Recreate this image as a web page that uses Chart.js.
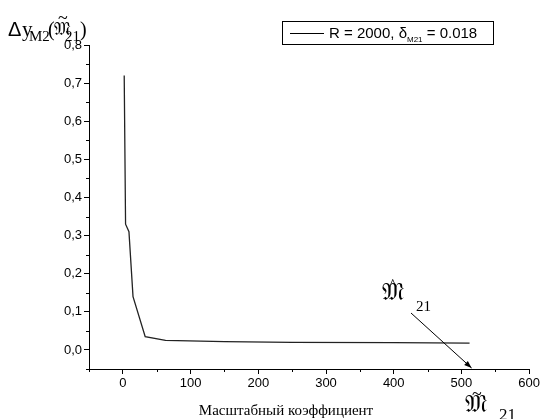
<!DOCTYPE html>
<html><head><meta charset="utf-8">
<script src="https://cdn.jsdelivr.net/npm/chart.js@4/dist/chart.umd.min.js"></script>
<style>html,body{margin:0;padding:0;background:#fff}#wrap{width:542px;height:419px;position:relative}</style>
</head><body><div id="wrap"><canvas id="c" width="542" height="419"></canvas></div>
<script>
const scaleFactors = [2, 4, 9, 15, 33, 63, 150, 250, 400, 512];
const deltaY = [0.72, 0.33, 0.31, 0.14, 0.035, 0.025, 0.022, 0.020, 0.019, 0.018];
const seriesLabel = 'R = 2000, δM21 = 0.018';
const xTitle = 'Масштабный коэффициент';
const xMajorTicks = [0, 100, 200, 300, 400, 500, 600];
const yMajorTicks = [0.0, 0.1, 0.2, 0.3, 0.4, 0.5, 0.6, 0.7, 0.8];

const FR = '𝔐';
const serif = '"Liberation Serif","DejaVu Serif",serif';
const sans = '"Liberation Sans",Arial,sans-serif';

function isMajor(v, list){ return list.some(t => Math.abs(t - v) < 1e-6); }

const annot = {
  id: 'annot',
  afterDraw(chart){
    const ctx = chart.ctx;
    const xs = chart.scales.x, ys = chart.scales.y;
    ctx.save();
    ctx.fillStyle = '#000';
    ctx.strokeStyle = '#000';
    // minor ticks
    ctx.lineWidth = 1;
    ctx.beginPath();
    for (let v = -50; v <= 600; v += 50){
      if (isMajor(v, xMajorTicks)) continue;
      const px = Math.round(xs.getPixelForValue(v)) + 0.5;
      ctx.moveTo(px, ys.bottom); ctx.lineTo(px, ys.bottom + 3);
    }
    for (let i = -1; i <= 16; i++){
      const v = i * 0.05;
      if (isMajor(Math.round(v*1000)/1000, yMajorTicks)) continue;
      const py = Math.round(ys.getPixelForValue(v)) + 0.5;
      ctx.moveTo(xs.left - 3, py); ctx.lineTo(xs.left, py);
    }
    ctx.stroke();

    // legend box
    ctx.lineWidth = 1;
    ctx.strokeRect(282.5, 21.5, 211, 23);
    ctx.beginPath(); ctx.moveTo(290, 33.5); ctx.lineTo(324, 33.5); ctx.lineWidth = 1; ctx.stroke();
    ctx.font = '15px ' + sans;
    ctx.textBaseline = 'alphabetic';
    ctx.textAlign = 'left';
    const p1 = 'R = 2000, δ';
    ctx.fillText(p1, 329, 38);
    let w = ctx.measureText(p1).width;
    ctx.font = '8px ' + sans;
    ctx.fillText('M21', 329 + w, 42);
    const w2 = ctx.measureText('M21').width;
    ctx.font = '15px ' + sans;
    ctx.fillText(' = 0.018', 329 + w + w2, 38);

    // y axis title
    ctx.font = '20px ' + sans;
    ctx.fillText('Δ', 8, 36);
    ctx.font = '21px ' + serif;
    ctx.fillText('y', 22, 36);
    ctx.font = '15px ' + serif;
    ctx.fillText('M2', 29, 41);
    ctx.font = '20px ' + serif;
    ctx.fillText('(', 48, 36);
    ctx.font = '18px ' + serif;
    ctx.fillText(FR, 54, 35);
    ctx.fillText('~', 58, 24);
    ctx.font = '15px ' + serif;
    ctx.fillText('21', 65, 41);
    ctx.font = '20px ' + serif;
    ctx.fillText(')', 80, 36);

    // x title
    ctx.font = '15px ' + serif;
    ctx.textAlign = 'center';
    ctx.fillText(xTitle, 286, 415);

    // annotation hat M 21
    ctx.textAlign = 'left';
    ctx.font = '24px ' + serif;
    ctx.fillText(FR, 382, 300);
    ctx.font = '16px ' + serif;
    ctx.fillText('^', 389, 290);
    ctx.font = '15px ' + serif;
    ctx.fillText('21', 416, 311);
    // bottom tilde M 21
    ctx.font = '24px ' + serif;
    ctx.fillText(FR, 465, 412);
    ctx.font = '18px ' + serif;
    ctx.fillText('~', 472, 400);
    ctx.font = '17px ' + serif;
    ctx.fillText('21', 499, 420);

    // arrow
    const ax0 = 411, ay0 = 313;
    const ax1 = xs.getPixelForValue(515), ay1 = ys.bottom - 1;
    ctx.lineWidth = 1;
    ctx.beginPath(); ctx.moveTo(ax0, ay0); ctx.lineTo(ax1, ay1); ctx.stroke();
    const ang = Math.atan2(ay1 - ay0, ax1 - ax0);
    const L = 8, W = 0.35;
    ctx.beginPath();
    ctx.moveTo(ax1, ay1);
    ctx.lineTo(ax1 - L*Math.cos(ang - W), ay1 - L*Math.sin(ang - W));
    ctx.lineTo(ax1 - L*Math.cos(ang + W), ay1 - L*Math.sin(ang + W));
    ctx.closePath(); ctx.fill();
    ctx.restore();
  }
};

new Chart(document.getElementById('c'), {
  type: 'line',
  data: {
    datasets: [{
      label: seriesLabel,
      data: scaleFactors.map((x, i) => ({x: x, y: deltaY[i]})),
      borderColor: '#222',
      borderWidth: 1.3,
      pointRadius: 0,
      tension: 0,
      fill: false
    }]
  },
  options: {
    responsive: false,
    animation: false,
    devicePixelRatio: 1,
    layout: { padding: { left: 0, right: 12, top: 45, bottom: 0 } },
    plugins: { legend: { display: false }, tooltip: { enabled: false } },
    scales: {
      x: {
        type: 'linear', min: -50, max: 600,
        afterFit(s){ s.height = 50; },
        ticks: {
          stepSize: 50, autoSkip: false, maxRotation: 0,
          color: '#000', font: { family: sans, size: 13 }, padding: 2,
          callback: v => isMajor(v, xMajorTicks) ? String(v) : ''
        },
        grid: {
          drawOnChartArea: false, drawTicks: true, tickLength: 5,
          tickColor: c => isMajor(c.tick ? c.tick.value : 999, xMajorTicks) ? '#000' : 'rgba(0,0,0,0)'
        },
        border: { display: true, color: '#000', width: 1 }
      },
      y: {
        type: 'linear', min: -0.05, max: 0.8,
        afterFit(s){ s.width = 89; },
        ticks: {
          stepSize: 0.05, autoSkip: false,
          color: '#000', font: { family: sans, size: 13 }, padding: 2,
          callback: v => { const r = Math.round(v*1000)/1000; return isMajor(r, yMajorTicks) ? r.toFixed(1).replace('.', ',') : ''; }
        },
        grid: {
          drawOnChartArea: false, drawTicks: true, tickLength: 5,
          tickColor: c => { const v = c.tick ? Math.round(c.tick.value*1000)/1000 : 999; return isMajor(v, yMajorTicks) ? '#000' : 'rgba(0,0,0,0)'; }
        },
        border: { display: true, color: '#000', width: 1 }
      }
    }
  },
  plugins: [annot]
});
</script></body></html>
